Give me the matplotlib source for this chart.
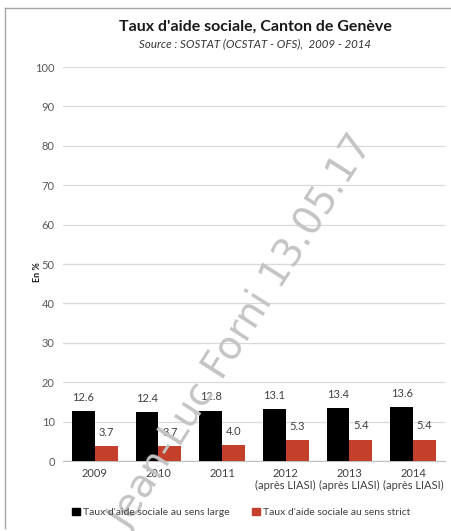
import matplotlib
matplotlib.use("Agg")
import matplotlib.pyplot as plt
import numpy as np
from matplotlib.patches import Rectangle
from matplotlib.lines import Line2D

categories = ["2009", "2010", "2011", "2012\n(après LIASI)", "2013\n(après LIASI)", "2014\n(après LIASI)"]
large = [12.6, 12.4, 12.8, 13.1, 13.4, 13.6]
strict = [3.7, 3.7, 4.0, 5.3, 5.4, 5.4]
yticks = [0, 10, 20, 30, 40, 50, 60, 70, 80, 90, 100]
series_names = ["Taux d'aide sociale au sens large", "Taux d'aide sociale au sens strict"]

plt.rcParams['font.family'] = ['Lato', 'DejaVu Sans']

RED = '#C5402A'
fig = plt.figure(figsize=(4.52, 5.31), dpi=100)
ax = fig.add_axes([0.1394, 0.1318, 0.845, 0.742])

x = np.arange(len(categories))
w = 0.36
ax.bar(x - w/2, large, w, color='black', zorder=3)
ax.bar(x + w/2, strict, w, color=RED, zorder=3)
for xi, v in zip(x, large):
    ax.annotate(f"{v:.1f}", (xi - w/2, v), xytext=(0, 6), textcoords='offset points',
                ha='center', va='bottom', fontsize=8, color='#404040', zorder=4)
for xi, v in zip(x, strict):
    ax.annotate(f"{v:.1f}", (xi + w/2, v), xytext=(0, 6), textcoords='offset points',
                ha='center', va='bottom', fontsize=8, color='#404040', zorder=4)

ax.set_ylim(0, 100)
ax.set_xlim(-0.5, len(categories) - 0.5)
ax.set_yticks(yticks)
ax.yaxis.grid(True, color='#D9D9D9', linewidth=0.9, zorder=0)
ax.set_axisbelow(True)
for s in ['top', 'right', 'left']:
    ax.spines[s].set_visible(False)
ax.spines['bottom'].set_color('#BFBFBF')
ax.tick_params(axis='y', length=0, labelsize=8, labelcolor='#595959', pad=6)
ax.tick_params(axis='x', length=0, labelsize=8, labelcolor='#404040', pad=5)
ax.set_xticks(x)
ax.set_xticklabels(categories, linespacing=1.15)

fig.text(38 / 452, 1 - 272 / 531, "En %", ha='center', va='center', rotation=90,
         fontsize=6.5, fontweight='bold', color='#1a1a1a')

fig.text(0.565, 0.949, "Taux d'aide sociale, Canton de Genève", ha='center', va='center',
         fontsize=11.5, fontweight='bold', color='#1a1a1a')
fig.text(0.565, 0.917, "Source : SOSTAT (OCSTAT - OFS),  2009 - 2014", ha='center', va='center',
         fontsize=8.3, style='italic', color='#333333')

# watermark
fig.text(0.535, 0.375, "Jean-Luc Forni 13.05.17", ha='center', va='center', rotation=57.5,
         fontsize=28, color='#C4C4C4', zorder=1, family=['DejaVu Sans'])

# legend
handles = [Rectangle((0, 0), 1, 1, color='black'), Rectangle((0, 0), 1, 1, color=RED)]
fig.legend(handles, series_names, loc='center left', bbox_to_anchor=(0.16, 0.035), ncol=2,
           frameon=False, fontsize=7.5, handlelength=0.7, handleheight=0.7, handletextpad=0.3,
           columnspacing=2.2, labelcolor='#404040', borderpad=0, borderaxespad=0)

# frame
fig.add_artist(Line2D([0.011, 0.011], [0.005, 0.985], transform=fig.transFigure, color='#A6A6A6', linewidth=1))
fig.add_artist(Line2D([0.011, 1.0], [0.985, 0.985], transform=fig.transFigure, color='#A6A6A6', linewidth=1))

fig.savefig("out.png", dpi=100)
